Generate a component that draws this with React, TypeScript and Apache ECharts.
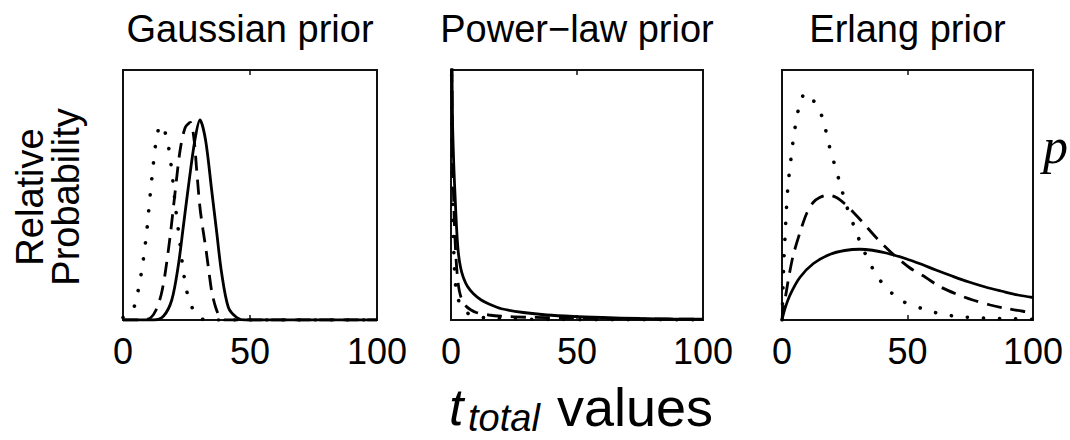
import React, { useEffect, useRef } from "react";
import * as echarts from "echarts";

const TITLES = ["Gaussian prior", "Power\u2212law prior", "Erlang prior"];
const X_TICKS = [0, 50, 100];
const Y_LABEL_LINES = ["Relative", "Probability"];
const X_LABEL_MAIN = "t";
const X_LABEL_SUB = "total";
const X_LABEL_REST = "values";
const SIDE_LABEL = "p";

// Gaussian prior panel
const gaussSolid: number[][] = [[0, 0], [12, 0], [15.9, 0.015], [19.2, 0.08], [21.8, 0.22], [23.7, 0.37], [25.7, 0.53], [28.3, 0.72], [30.3, 0.8], [32.5, 0.72], [34.9, 0.52], [36.9, 0.35], [38.8, 0.19], [41.5, 0.05], [44.8, 0.01], [48, 0], [100, 0]];
const gaussDashed: number[][] = [[0, 0], [8, 0], [11, 0.01], [13, 0.04], [15, 0.1], [16.5, 0.18], [18.5, 0.33], [20.5, 0.51], [22.5, 0.68], [24.5, 0.77], [26.5, 0.79], [28, 0.72], [29, 0.6], [30.3, 0.45], [31.5, 0.36], [32.7, 0.28], [34, 0.18], [35, 0.11], [36.5, 0.05], [38, 0.015], [40, 0], [100, 0]];
const gaussDotted: number[][] = [[0, 0.01], [2, 0.025], [4.7, 0.06], [6, 0.12], [7.7, 0.22], [9.3, 0.35], [10.6, 0.49], [11.9, 0.62], [12.8, 0.7], [13.9, 0.76], [15.2, 0.78], [16.6, 0.75], [17.8, 0.7], [18.8, 0.63], [19.7, 0.55], [20.7, 0.45], [22.4, 0.31], [23.7, 0.2], [25, 0.12], [26.4, 0.07], [29.2, 0.015], [33, 0], [100, 0]];

// Power-law prior panel
const powerSolid: number[][] = [[0.15, 1.3], [0.6, 0.8], [1.1, 0.62], [1.6, 0.5], [2.2, 0.37], [2.9, 0.27], [3.8, 0.21], [4.9, 0.17], [6.5, 0.135], [8.9, 0.105], [12, 0.08], [15.5, 0.062], [20, 0.045], [28.7, 0.03], [38, 0.02], [48.5, 0.014], [60, 0.01], [75, 0.006], [88, 0.004], [100, 0.003]];
const powerDashed: number[][] = [[0.1, 1.3], [0.5, 0.8], [1, 0.5], [1.8, 0.28], [2.8, 0.15], [4, 0.09], [6, 0.055], [8, 0.04], [10, 0.03], [15, 0.02], [20, 0.015], [30, 0.011], [45, 0.008], [60, 0.006], [80, 0.004], [100, 0.003]];
const powerDotted: number[][] = [[0.1, 1.3], [0.4, 0.7], [0.8, 0.4], [1.4, 0.2], [2.2, 0.11], [3.5, 0.065], [4.8, 0.045], [7, 0.025], [10, 0.014], [15, 0.008], [25, 0.004], [40, 0.002], [70, 0.001], [100, 0.0005]];

// Erlang prior panel
const erlangSolid: number[][] = [[0, 0], [1, 0.04], [3.2, 0.1], [7.1, 0.17], [12.4, 0.225], [19, 0.262], [25, 0.278], [31, 0.283], [36, 0.279], [41.5, 0.268], [49.4, 0.245], [55, 0.225], [61.3, 0.2], [68, 0.175], [74.5, 0.152], [81, 0.132], [87.7, 0.115], [94, 0.1], [100, 0.09]];
const erlangDashed: number[][] = [[0, 0], [0.5, 0.05], [1.5, 0.1], [2.5, 0.16], [4.5, 0.26], [7.8, 0.37], [10, 0.43], [12.4, 0.47], [15, 0.49], [18.4, 0.5], [21.7, 0.49], [25, 0.465], [28.5, 0.43], [32.2, 0.39], [37.5, 0.33], [43.5, 0.27], [50.7, 0.21], [57.3, 0.17], [62.6, 0.135], [69.2, 0.105], [76, 0.08], [83, 0.06], [89, 0.047], [96, 0.035], [100, 0.03]];
const erlangDotted: number[][] = [[0, 0], [0.3, 0.1], [0.8, 0.25], [1.2, 0.33], [1.8, 0.45], [2.5, 0.55], [3.4, 0.63], [4.2, 0.7], [5.2, 0.77], [6.5, 0.84], [8.5, 0.9], [10.5, 0.905], [12.4, 0.88], [15.7, 0.82], [17.4, 0.76], [19, 0.69], [21, 0.62], [23, 0.55], [25.6, 0.46], [28.9, 0.37], [31.6, 0.3], [34.9, 0.23], [38.2, 0.17], [43.5, 0.11], [48, 0.075], [56, 0.045], [63, 0.025], [70, 0.014], [76, 0.01], [82, 0.007], [89, 0.005], [96, 0.004], [100, 0.003]];

const PANELS = [
  { solid: gaussSolid, dashed: gaussDashed, dotted: gaussDotted },
  { solid: powerSolid, dashed: powerDashed, dotted: powerDotted },
  { solid: erlangSolid, dashed: erlangDashed, dotted: erlangDotted },
];

const GRID_POS = [
  { left: 123, width: 254 },
  { left: 451, width: 252 },
  { left: 782, width: 251 },
];
const GRID_TOP = 70;
const GRID_H = 250;
const SANS = "Liberation Sans, Arial, Helvetica, sans-serif";
const SERIF = "Liberation Serif, Times New Roman, serif";

export default function App() {
  const ref = useRef<HTMLDivElement>(null);
  useEffect(() => {
    document.body.style.margin = "0";
    if (!ref.current) return;
    const chart = echarts.init(ref.current, undefined, { renderer: "svg" });

    const grid = GRID_POS.map((g) => ({
      left: g.left,
      width: g.width,
      top: GRID_TOP,
      height: GRID_H,
      show: true,
      borderColor: "#111",
      borderWidth: 2,
      backgroundColor: "transparent",
      containLabel: false,
    }));

    const xAxis: any[] = [];
    const yAxis: any[] = [];
    GRID_POS.forEach((_, i) => {
      xAxis.push({
        type: "value",
        gridIndex: i,
        position: "bottom",
        min: X_TICKS[0],
        max: X_TICKS[X_TICKS.length - 1],
        interval: X_TICKS[1] - X_TICKS[0],
        axisLine: { show: false },
        axisTick: { show: true, inside: true, length: 5, lineStyle: { color: "#111", width: 1.5 } },
        splitLine: { show: false },
        axisLabel: {
          show: true,
          color: "#000",
          fontSize: 36,
          fontFamily: SANS,
          margin: 13,
          showMinLabel: true,
          showMaxLabel: true,
        },
      });
      xAxis.push({
        type: "value",
        gridIndex: i,
        position: "top",
        min: X_TICKS[0],
        max: X_TICKS[X_TICKS.length - 1],
        interval: X_TICKS[1] - X_TICKS[0],
        axisLine: { show: false },
        axisTick: { show: true, inside: true, length: 5, lineStyle: { color: "#111", width: 1.5 } },
        splitLine: { show: false },
        axisLabel: { show: false },
      });
      yAxis.push({
        type: "value",
        gridIndex: i,
        min: 0,
        max: 1,
        axisLine: { show: false },
        axisTick: { show: false },
        axisLabel: { show: false },
        splitLine: { show: false },
      });
    });

    const series: any[] = [];
    PANELS.forEach((p, i) => {
      const base = {
        type: "line",
        xAxisIndex: i * 2,
        yAxisIndex: i,
        showSymbol: false,
        symbol: "none",
        smooth: 0.3,
        clip: true,
        silent: true,
      };
      series.push({ ...base, name: `solid${i}`, data: p.solid, lineStyle: { color: "#000", width: 2.8, type: "solid" } });
      series.push({ ...base, name: `dashed${i}`, data: p.dashed, lineStyle: { color: "#000", width: 2.8, type: [15, 9] } });
      series.push({ ...base, name: `dotted${i}`, data: p.dotted, lineStyle: { color: "#000", width: 3.6, type: [0.1, 16], cap: "round" } });
    });

    const graphic: any[] = [];
    TITLES.forEach((t, i) => {
      const g = GRID_POS[i];
      graphic.push({
        type: "text",
        x: g.left + g.width / 2,
        y: 29,
        style: { text: t, fontSize: 38, fontFamily: SANS, fill: "#000", align: "center", verticalAlign: "middle" },
      });
    });
    const yCenter = GRID_TOP + GRID_H / 2 + 2;
    graphic.push({
      type: "text",
      x: 30,
      y: yCenter,
      rotation: Math.PI / 2,
      style: { text: Y_LABEL_LINES[0], fontSize: 38, fontFamily: SANS, fill: "#000", align: "center", verticalAlign: "middle" },
    });
    graphic.push({
      type: "text",
      x: 66,
      y: yCenter,
      rotation: Math.PI / 2,
      style: { text: Y_LABEL_LINES[1], fontSize: 38, fontFamily: SANS, fill: "#000", align: "center", verticalAlign: "middle" },
    });
    graphic.push({
      type: "text",
      x: 449,
      y: 407,
      style: { text: X_LABEL_MAIN, fontSize: 52, fontStyle: "italic", fontFamily: SANS, fill: "#000", align: "left", verticalAlign: "middle" },
    });
    graphic.push({
      type: "text",
      x: 468,
      y: 418,
      style: { text: X_LABEL_SUB, fontSize: 38, fontStyle: "italic", fontFamily: SANS, fill: "#000", align: "left", verticalAlign: "middle" },
    });
    graphic.push({
      type: "text",
      x: 557,
      y: 407,
      style: { text: X_LABEL_REST, fontSize: 54, fontFamily: SANS, fill: "#000", align: "left", verticalAlign: "middle" },
    });
    graphic.push({
      type: "text",
      x: 1043,
      y: 146,
      style: { text: SIDE_LABEL, fontSize: 50, fontStyle: "italic", fontFamily: SERIF, fill: "#000", align: "left", verticalAlign: "middle" },
    });

    chart.setOption({
      animation: false,
      backgroundColor: "#fff",
      grid,
      xAxis,
      yAxis,
      series,
      graphic,
    });
    return () => chart.dispose();
  }, []);
  return <div ref={ref} style={{ width: 1070, height: 440 }} />;
}
